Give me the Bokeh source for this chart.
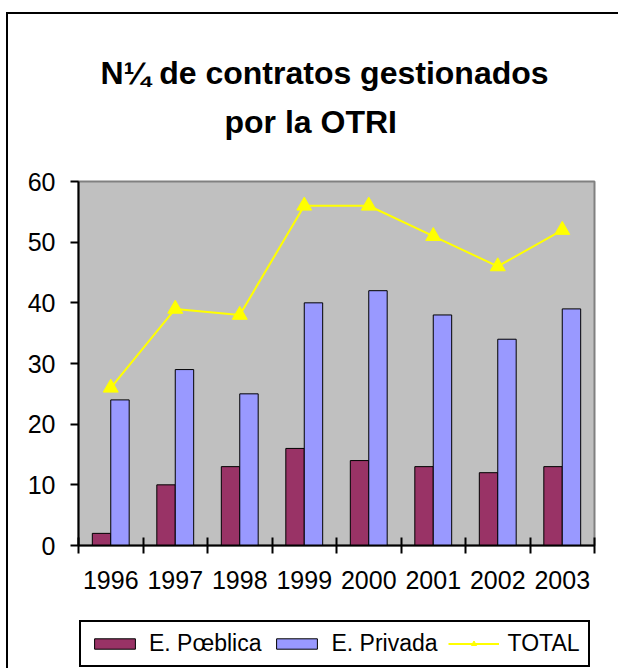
import numpy as np
from bokeh.plotting import figure
from bokeh.layouts import column
from bokeh.models import Range1d, FixedTicker, Legend, LegendItem, Title
from bokeh.embed import file_html
from bokeh.resources import INLINE

# ---- data ----
years = ["1996", "1997", "1998", "1999", "2000", "2001", "2002", "2003"]
publica = [2, 10, 13, 16, 14, 13, 12, 13]
privada = [24, 29, 25, 40, 42, 38, 34, 39]
total = [26, 39, 38, 56, 56, 51, 46, 52]
y_ticks = [0, 10, 20, 30, 40, 50, 60]
title_line1 = "N¼ de contratos gestionados"
title_line2 = "por la OTRI"
series_names = ["E. Pœblica", "E. Privada", "TOTAL"]

FONT = "Liberation Sans"
C_PUB, C_PRIV, C_TOT = "#993366", "#9999FF", "#FFFF00"
n = len(years)
centers = np.arange(n) + 0.5
bw = 1 / 3.5

# ---------------- main chart ----------------
p = figure(width=612, height=606, output_backend="svg", toolbar_location=None,
           x_range=Range1d(0, n), y_range=Range1d(0, 60), title=None)
p.margin = (12, 0, 0, 6)
p.styles = {"border-left": "2px solid black", "border-top": "2px solid black"}
p.min_border_left = 70
p.min_border_right = 26
p.min_border_top = 167
p.min_border_bottom = 75
p.background_fill_color = "#C0C0C0"
p.border_fill_color = "white"
p.outline_line_color = "#808080"
p.outline_line_width = 2
p.xgrid.visible = False
p.ygrid.visible = False

xa = p.xaxis[0]
xa.ticker = FixedTicker(ticks=[float(c) for c in centers],
                        minor_ticks=[float(i) for i in range(n + 1)])
xa.major_label_overrides = {float(c): y for c, y in zip(centers, years)}
xa.major_tick_line_color = None
xa.major_tick_in = 0
xa.major_tick_out = 8
xa.minor_tick_in = 8
xa.minor_tick_out = 8
xa.minor_tick_line_color = "black"
xa.minor_tick_line_width = 2
xa.axis_line_color = "black"
xa.axis_line_width = 2
xa.major_label_text_font = FONT
xa.major_label_text_font_size = "25px"
xa.major_label_text_color = "black"
xa.major_label_standoff = 17

ya = p.yaxis[0]
ya.ticker = FixedTicker(ticks=y_ticks)
ya.major_tick_in = 0
ya.major_tick_out = 8
ya.major_tick_line_width = 2
ya.major_tick_line_color = "black"
ya.minor_tick_line_color = None
ya.axis_line_color = "black"
ya.axis_line_width = 2
ya.major_label_text_font = FONT
ya.major_label_text_font_size = "25px"
ya.major_label_text_color = "black"
ya.major_label_standoff = 15

p.vbar(x=centers - bw / 2, top=publica, bottom=0, width=bw,
       fill_color=C_PUB, line_color="black", line_width=1)
p.vbar(x=centers + bw / 2, top=privada, bottom=0, width=bw,
       fill_color=C_PRIV, line_color="black", line_width=1)
p.line(centers, total, line_color=C_TOT, line_width=2)
p.scatter(centers, total, marker="triangle", size=15,
          fill_color=C_TOT, line_color=C_TOT)

# titles (spacer nearest the frame, then line 2, then line 1)
p.add_layout(Title(text=" ", text_font_size="10px", standoff=29), "above")
p.add_layout(Title(text=title_line2, align="left", offset=146, standoff=0,
                   text_font=FONT, text_font_size="32px", text_font_style="bold",
                   text_color="black"), "above")
p.add_layout(Title(text=title_line1, align="left", offset=22, standoff=21,
                   text_font=FONT, text_font_size="32px", text_font_style="bold",
                   text_color="black"), "above")

# ---------------- legend strip ----------------
lg = figure(width=612, height=50, output_backend="svg", toolbar_location=None,
            x_range=Range1d(0, 1), y_range=Range1d(0, 1), title=None,
            x_axis_location=None, y_axis_location=None)
lg.margin = (0, 0, 0, 6)
lg.styles = {"border-left": "2px solid black"}
lg.min_border_left = 0
lg.min_border_right = 0
lg.min_border_top = 0
lg.min_border_bottom = 0
lg.outline_line_color = None
lg.background_fill_color = "white"
lg.border_fill_color = "white"
lg.xgrid.visible = False
lg.ygrid.visible = False

# legend-only renderers (no visible data)
g1 = lg.vbar(x=[np.nan], top=[np.nan], width=0.1, fill_color=C_PUB,
             line_color="black", line_width=1)
g2 = lg.vbar(x=[np.nan], top=[np.nan], width=0.1, fill_color=C_PRIV,
             line_color="black", line_width=1)
g3 = lg.line(x=[np.nan], y=[np.nan], line_color=C_TOT, line_width=2)
g4 = lg.scatter(x=[np.nan], y=[np.nan], marker="triangle", size=15,
                fill_color=C_TOT, line_color=C_TOT)

legend = Legend(items=[LegendItem(label=series_names[0], renderers=[g1]),
                       LegendItem(label=series_names[1], renderers=[g2]),
                       LegendItem(label=series_names[2], renderers=[g3, g4])],
                orientation="horizontal", location=(1, 1),
                glyph_width=51, glyph_height=13, label_standoff=9,
                label_text_font=FONT, label_text_font_size="23px",
                label_text_color="black",
                spacing=10, padding=8, margin=0,
                border_line_color="black", border_line_width=2, border_line_alpha=1,
                background_fill_color="white", background_fill_alpha=1)
lg.add_layout(legend)

layout = column(p, lg, spacing=0)
open("out.html", "w").write(file_html(layout, INLINE))
